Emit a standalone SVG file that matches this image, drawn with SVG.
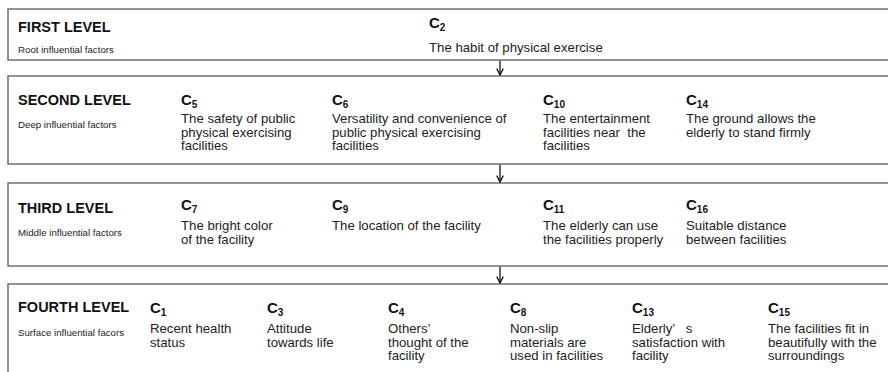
<svg xmlns="http://www.w3.org/2000/svg" width="888" height="372" viewBox="0 0 888 372">
<defs>
<style>
.box{fill:#fff;stroke:#707070;stroke-width:1.5}
.lvl{font-family:"Liberation Sans",Arial,sans-serif;font-weight:bold;font-size:14.5px;fill:#111}
.sub{font-family:"Liberation Sans",Arial,sans-serif;font-size:9.7px;fill:#222}
.cid{font-family:"Liberation Sans",Arial,sans-serif;font-weight:bold;font-size:15px;fill:#111}
.cid tspan.s{font-size:10px}
.txt{font-family:"Liberation Sans",Arial,sans-serif;font-size:13.2px;fill:#222;white-space:pre}
.conn{stroke:#111;stroke-width:1.3;fill:none}
</style>
<marker id="arr" viewBox="0 0 10 10" refX="9" refY="5" markerWidth="8" markerHeight="8" markerUnits="userSpaceOnUse" orient="auto">
<path d="M1,1 L9,5 L1,9" fill="none" stroke="#111" stroke-width="1.6"/>
</marker>
</defs>
<rect width="888" height="372" fill="#fff"/>

<g id="level1">
<rect class="box" x="8" y="9" width="900" height="51"/>
<text class="lvl" x="18" y="32">FIRST LEVEL</text>
<text class="sub" x="18" y="53">Root influential factors</text>
<g id="c2">
<text class="cid" x="429" y="28">C<tspan class="s" dy="3">2</tspan></text>
<text class="txt" x="429" y="51.5">The habit of physical exercise</text>
</g>
</g>

<g id="level2">
<rect class="box" x="8" y="76" width="900" height="88"/>
<text class="lvl" x="18" y="105">SECOND LEVEL</text>
<text class="sub" x="18" y="128">Deep influential factors</text>
<g id="c5">
<text class="cid" x="181" y="105">C<tspan class="s" dy="3">5</tspan></text>
<text class="txt" x="181" y="123"><tspan x="181">The safety of public</tspan><tspan x="181" dy="13.6">physical exercising</tspan><tspan x="181" dy="13.6">facilities</tspan></text>
</g>
<g id="c6">
<text class="cid" x="332" y="105">C<tspan class="s" dy="3">6</tspan></text>
<text class="txt" x="332" y="123"><tspan x="332">Versatility and convenience of</tspan><tspan x="332" dy="13.6">public physical exercising</tspan><tspan x="332" dy="13.6">facilities</tspan></text>
</g>
<g id="c10">
<text class="cid" x="543" y="105">C<tspan class="s" dy="3">10</tspan></text>
<text class="txt" x="543" y="123"><tspan x="543">The entertainment</tspan><tspan x="543" dy="13.6">facilities near  the</tspan><tspan x="543" dy="13.6">facilities</tspan></text>
</g>
<g id="c14">
<text class="cid" x="686" y="105">C<tspan class="s" dy="3">14</tspan></text>
<text class="txt" x="686" y="123"><tspan x="686">The ground allows the</tspan><tspan x="686" dy="13.6">elderly to stand firmly</tspan></text>
</g>
</g>

<g id="level3">
<rect class="box" x="8" y="183" width="900" height="83"/>
<text class="lvl" x="18" y="213">THIRD LEVEL</text>
<text class="sub" x="18" y="236">Middle influential factors</text>
<g id="c7">
<text class="cid" x="181" y="210">C<tspan class="s" dy="3">7</tspan></text>
<text class="txt" x="181" y="230"><tspan x="181">The bright color</tspan><tspan x="181" dy="13.6">of the facility</tspan></text>
</g>
<g id="c9">
<text class="cid" x="332" y="210">C<tspan class="s" dy="3">9</tspan></text>
<text class="txt" x="332" y="230">The location of the facility</text>
</g>
<g id="c11">
<text class="cid" x="543" y="210">C<tspan class="s" dy="3">11</tspan></text>
<text class="txt" x="543" y="230"><tspan x="543">The elderly can use</tspan><tspan x="543" dy="13.6">the facilities properly</tspan></text>
</g>
<g id="c16">
<text class="cid" x="686" y="210">C<tspan class="s" dy="3">16</tspan></text>
<text class="txt" x="686" y="230"><tspan x="686">Suitable distance</tspan><tspan x="686" dy="13.6">between facilities</tspan></text>
</g>
</g>

<g id="level4">
<rect class="box" x="8" y="284" width="900" height="100"/>
<text class="lvl" x="18" y="312">FOURTH LEVEL</text>
<text class="sub" x="18" y="336">Surface influential facors</text>
<g id="c1">
<text class="cid" x="150" y="313">C<tspan class="s" dy="3">1</tspan></text>
<text class="txt" x="150" y="333"><tspan x="150">Recent health</tspan><tspan x="150" dy="13.6">status</tspan></text>
</g>
<g id="c3">
<text class="cid" x="267" y="313">C<tspan class="s" dy="3">3</tspan></text>
<text class="txt" x="267" y="333"><tspan x="267">Attitude</tspan><tspan x="267" dy="13.6">towards life</tspan></text>
</g>
<g id="c4">
<text class="cid" x="388" y="313">C<tspan class="s" dy="3">4</tspan></text>
<text class="txt" x="388" y="333"><tspan x="388">Others’</tspan><tspan x="388" dy="13.6">thought of the</tspan><tspan x="388" dy="13.6">facility</tspan></text>
</g>
<g id="c8">
<text class="cid" x="510" y="313">C<tspan class="s" dy="3">8</tspan></text>
<text class="txt" x="510" y="333"><tspan x="510">Non-slip</tspan><tspan x="510" dy="13.6">materials are</tspan><tspan x="510" dy="13.6">used in facilities</tspan></text>
</g>
<g id="c13">
<text class="cid" x="632" y="313">C<tspan class="s" dy="3">13</tspan></text>
<text class="txt" x="632" y="333"><tspan x="632">Elderly’   s</tspan><tspan x="632" dy="13.6">satisfaction with</tspan><tspan x="632" dy="13.6">facility</tspan></text>
</g>
<g id="c15">
<text class="cid" x="768" y="313">C<tspan class="s" dy="3">15</tspan></text>
<text class="txt" x="768" y="333"><tspan x="768">The facilities fit in</tspan><tspan x="768" dy="13.6">beautifully with the</tspan><tspan x="768" dy="13.6">surroundings</tspan></text>
</g>
</g>

<g id="connectors">
<line class="conn" x1="500" y1="60.8" x2="500" y2="75" marker-end="url(#arr)"/>
<line class="conn" x1="500" y1="164.8" x2="500" y2="182" marker-end="url(#arr)"/>
<line class="conn" x1="500" y1="266.8" x2="500" y2="283" marker-end="url(#arr)"/>
</g>
</svg>
